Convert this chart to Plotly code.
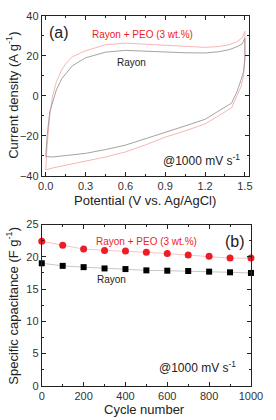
import plotly.graph_objects as go

# Panel (a): CV loops (potential V, current density A/g), traced around the loop
cv_peo_x = [0.0, 0.01, 0.03, 0.05, 0.08, 0.12, 0.15, 0.2, 0.3, 0.45, 0.6, 0.75, 0.9, 1.05, 1.2, 1.3, 1.38, 1.44, 1.48, 1.5,
            1.5, 1.49, 1.47, 1.44, 1.4, 1.3, 1.2, 1.05, 0.9, 0.75, 0.6, 0.45, 0.3, 0.15, 0.05, 0.01, 0.0]
cv_peo_y = [-37.0, -25.0, -10.0, -0.5, 7.0, 13.0, 16.0, 19.5, 22.5, 25.5, 26.3, 25.8, 25.0, 24.5, 24.2, 24.6, 25.5, 27.0, 29.0, 32.2,
            20.0, 10.0, 4.4, 0.0, -6.0, -10.0, -14.0, -17.5, -20.6, -24.5, -28.0, -30.5, -32.5, -34.5, -36.0, -36.8, -37.0]
cv_ray_x = [0.0, 0.01, 0.03, 0.05, 0.08, 0.12, 0.15, 0.2, 0.3, 0.45, 0.6, 0.75, 0.9, 1.05, 1.2, 1.3, 1.38, 1.44, 1.48, 1.5,
            1.5, 1.49, 1.47, 1.44, 1.4, 1.3, 1.2, 1.05, 0.9, 0.75, 0.6, 0.45, 0.3, 0.15, 0.1, 0.05, 0.0]
cv_ray_y = [-30.3, -20.0, -8.0, -3.6, 3.0, 8.5, 11.0, 15.0, 19.0, 21.8, 22.7, 22.3, 21.8, 21.5, 21.4, 22.0, 23.0, 24.5, 26.0, 28.7,
            18.0, 12.0, 7.7, 2.0, -3.6, -7.5, -11.7, -15.0, -18.2, -21.5, -24.6, -26.8, -28.7, -29.8, -30.3, -30.5, -30.3]

# Panel (b): specific capacitance vs cycle number
cycles = [0, 100, 200, 300, 400, 500, 600, 700, 800, 900, 1000]
cap_peo = [22.4, 21.8, 21.2, 21.0, 20.9, 20.7, 20.5, 20.3, 20.1, 19.8, 19.8]
cap_ray = [19.0, 18.6, 18.4, 18.2, 18.1, 17.9, 17.85, 17.8, 17.7, 17.6, 17.5]

RED = "#ee1c25"
fig = go.Figure()

fig.add_trace(go.Scatter(x=cv_peo_x, y=cv_peo_y, mode="lines", line=dict(color="#f4a3a3", width=0.8),
                         xaxis="x", yaxis="y", showlegend=False))
fig.add_trace(go.Scatter(x=cv_ray_x, y=cv_ray_y, mode="lines", line=dict(color="#8c8c8c", width=0.8),
                         xaxis="x", yaxis="y", showlegend=False))

fig.add_trace(go.Scatter(x=cycles, y=cap_peo, mode="lines+markers", line=dict(color="#f8b4b4", width=0.8),
                         marker=dict(symbol="circle", size=7, color=RED),
                         xaxis="x2", yaxis="y2", showlegend=False, cliponaxis=False))
fig.add_trace(go.Scatter(x=cycles, y=cap_ray, mode="lines+markers", line=dict(color="#b8b8b8", width=0.8),
                         marker=dict(symbol="square", size=6, color="black"),
                         xaxis="x2", yaxis="y2", showlegend=False, cliponaxis=False))

tickfont = dict(family="Liberation Sans, Arial, sans-serif", size=11, color="#333333")
common = dict(showline=True, linecolor="#222222", linewidth=1, mirror="allticks", ticks="inside",
              ticklen=4, tickcolor="#222222", tickfont=tickfont, showgrid=False, zeroline=False)

fig.update_layout(
    width=276, height=420, margin=dict(l=0, r=0, t=0, b=0),
    paper_bgcolor="white", plot_bgcolor="white",
    xaxis=dict(domain=[0.1486, 0.9420], range=[-0.03, 1.53], tickvals=[0, 0.3, 0.6, 0.9, 1.2, 1.5], tickformat=".1f",
               minor=dict(ticks="inside", ticklen=2, tickcolor="#222222", dtick=0.15, tick0=0), anchor="y", **common),
    yaxis=dict(domain=[0.5833, 0.9762], range=[-40, 40], dtick=20,
               minor=dict(ticks="inside", ticklen=2, tickcolor="#222222", dtick=10), anchor="x", **common),
    xaxis2=dict(domain=[0.1486, 0.9500], range=[0, 1000], dtick=200,
                minor=dict(ticks="inside", ticklen=2, tickcolor="#222222", dtick=100), anchor="y2", **common),
    yaxis2=dict(domain=[0.069, 0.4643], range=[0, 25], dtick=5,
                minor=dict(ticks="inside", ticklen=2, tickcolor="#222222", dtick=2.5), anchor="x2", **common),
)

font = "Liberation Sans, Arial, sans-serif"
def ann(text, x, y, size, color="#222222", angle=0, xanchor="center"):
    fig.add_annotation(text=text, x=x / 276, y=1 - y / 420, xref="paper", yref="paper",
                       showarrow=False, xanchor=xanchor, yanchor="middle", textangle=angle,
                       font=dict(family=font, size=size, color=color))

# Axis titles
ann("Potential (V vs. Ag/AgCl)", 150, 200, 13)
ann("Current density (A g<sup>-1</sup>)", 10, 92, 13, angle=-90)
ann("Cycle number", 150, 415, 13)
ann("Specific capacitance (F g<sup>-1</sup>)", 10, 308, 13, angle=-90)

# Panel labels and notes
ann("(a)", 59, 27, 16)
ann("Rayon + PEO (3 wt.%)", 148, 29, 10, color=RED)
ann("Rayon", 136, 58, 10)
ann("@1000 mV s<sup>-1</sup>", 210, 159, 12)
ann("(b)", 245, 242, 16)
ann("Rayon + PEO (3 wt.%)", 152, 242, 10, color=RED)
ann("Rayon", 115, 282, 10)
ann("@1000 mV s<sup>-1</sup>", 206, 372, 12)

fig.write_html("out.html")
